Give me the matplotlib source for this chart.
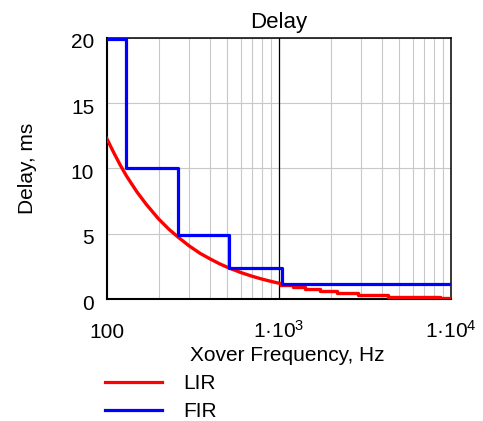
import matplotlib
matplotlib.use("Agg")
import matplotlib.pyplot as plt
import matplotlib.transforms as mtransforms
from matplotlib.lines import Line2D

plt.rcParams["font.family"] = ["Liberation Sans", "DejaVu Sans"]
plt.rcParams["mathtext.fontset"] = "custom"
plt.rcParams["mathtext.rm"] = "Liberation Sans"
plt.rcParams["mathtext.default"] = "regular"

# LIR delay (smooth part)
lir_f = [100, 110, 120, 130, 140, 150, 170, 200, 230, 260, 300, 350,
         400, 450, 500, 600, 700, 800, 900, 1000, 1030]
lir_d = [12.3, 11.2, 10.25, 9.45, 8.8, 8.2, 7.25, 6.15, 5.35, 4.75, 4.1, 3.5,
         3.08, 2.73, 2.46, 2.05, 1.76, 1.54, 1.37, 1.23, 1.2]
# LIR quantised tail above 1 kHz
lir_step_f = [1030, 1209, 1420, 1735, 2178, 2880, 4300, 8600, 10000]
lir_step_d = [1.09, 0.92, 0.76, 0.61, 0.46, 0.33, 0.2, 0.07, 0.07]

# FIR delay steps
fir_f = [100, 129, 258, 515, 1040, 10000]
fir_d = [19.9, 10.0, 4.95, 2.42, 1.19, 1.19]

x_ticks = [100, 1000, 10000]
x_labels = ["100", "1·$10^{3}$", "1·$10^{4}$"]
y_ticks = [0, 5, 10, 15, 20]

FS = 15

fig = plt.figure(figsize=(4.83, 4.21), dpi=100)
ax = fig.add_axes([0.2209, 0.2891, 0.7128, 0.6214])

ax.set_xscale("log")
ax.set_xlim(100, 10000)
ax.set_ylim(0, 20)

ax.grid(which="both", axis="x", color="#c8c8c8", lw=0.8)
ax.grid(which="major", axis="y", color="#c8c8c8", lw=0.8)
ax.axvline(1000, color="black", lw=0.9, zorder=2)

ax.plot(lir_f, lir_d, color="#ff0000", lw=2.4, zorder=3)
ax.plot(lir_step_f, lir_step_d, color="#ff0000", lw=2.4, drawstyle="steps-post", zorder=3)
ax.plot(fir_f, fir_d, color="#0000ff", lw=2.3, drawstyle="steps-post", zorder=4)

ax.set_xticks(x_ticks)
ax.set_xticklabels(x_labels)
ax.xaxis.set_minor_formatter(plt.NullFormatter())
ax.set_yticks(y_ticks)
ax.tick_params(which="both", length=0, labelsize=FS)
ax.tick_params(axis="x", pad=28)
ax.tick_params(axis="y", pad=9)
for t in ax.get_xticklabels():
    t.set_verticalalignment("baseline")
off = mtransforms.ScaledTranslation(0, -3 / 100, fig.dpi_scale_trans)
for t in ax.get_yticklabels():
    t.set_transform(t.get_transform() + off)

for side in ("left", "bottom"):
    ax.spines[side].set_linewidth(1.5)
for side in ("top", "right"):
    ax.spines[side].set_linewidth(1.1)

ax.set_title("Delay", fontsize=16, pad=7)
ax.set_ylabel("Delay, ms", fontsize=FS, labelpad=24)
ax.set_xlabel("Xover Frequency, Hz", fontsize=FS, labelpad=3)
ax.xaxis.label.set_x(0.525)

handles = [Line2D([], [], color="#ff0000", lw=2.3),
           Line2D([], [], color="#0000ff", lw=2.3)]
fig.legend(handles, ["LIR", "FIR"], loc="upper left", bbox_to_anchor=(0.2174, 0.111),
           frameon=False, fontsize=FS, handlelength=2.74, handletextpad=1.0,
           labelspacing=0.44, borderpad=0, borderaxespad=0)

fig.savefig("out.png", dpi=100)
